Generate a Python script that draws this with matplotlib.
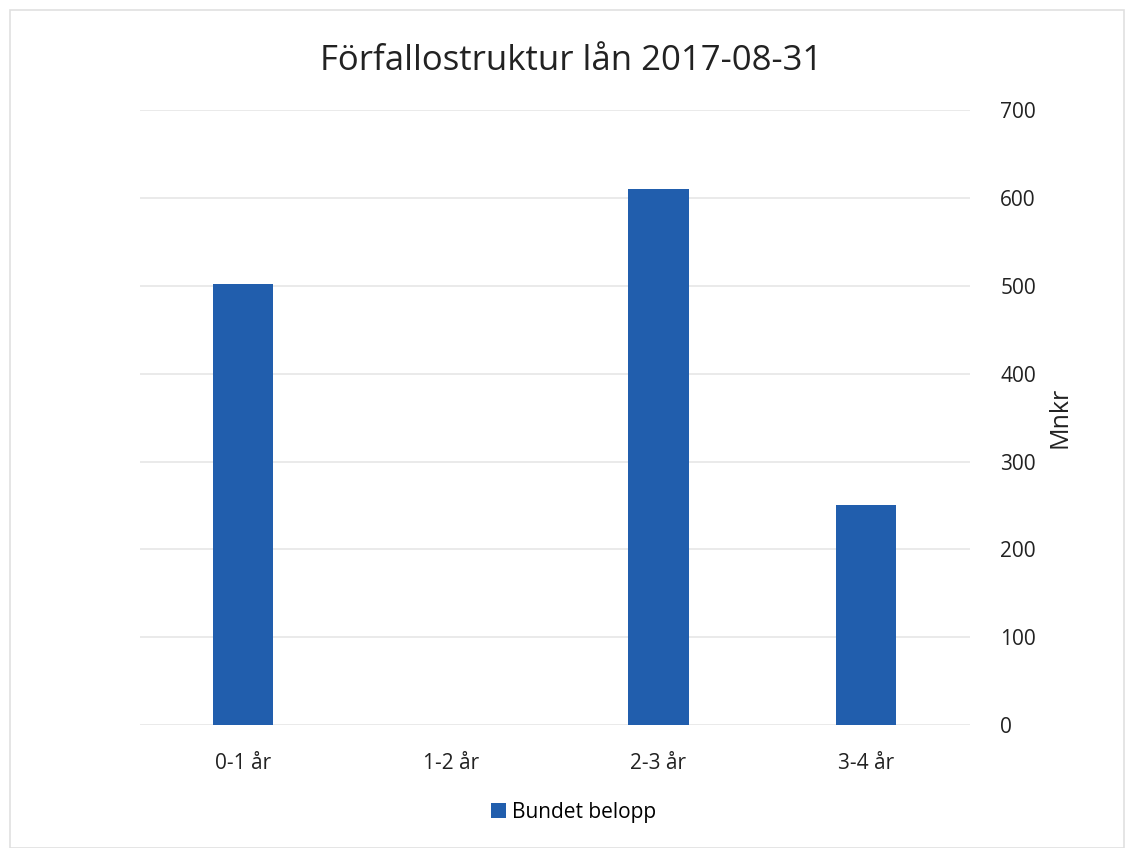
import matplotlib
matplotlib.use("Agg")
import numpy as np
import matplotlib.pyplot as plt
from matplotlib.patches import Rectangle

# data
categories = ["0-1 år", "1-2 år", "2-3 år", "3-4 år"]
bundet = [502, 0, 610, 251]
yticks = [0, 100, 200, 300, 400, 500, 600, 700]

bar_color = "#215ead"

fig = plt.figure(figsize=(11.25, 8.48), dpi=100)
ax = fig.add_axes([0.124, 0.145, 0.738, 0.725])

x = np.arange(len(categories))
ax.bar(x, bundet, width=0.29, color=bar_color, label="Bundet belopp", zorder=3)

ax.set_xlim(-0.5, len(categories) - 0.5)
ax.set_ylim(0, 700)
ax.set_yticks(yticks)
ax.yaxis.tick_right()
ax.yaxis.set_label_position("right")
ax.grid(axis="y", color="#e6e6e6", linewidth=1.2, zorder=0)
for sp in ax.spines.values():
    sp.set_visible(False)
ax.tick_params(axis="both", length=0, labelsize=15, colors="#222222")
ax.tick_params(axis="y", pad=22)
ax.tick_params(axis="x", pad=20)
ax.set_xticks(x)
ax.set_xticklabels(categories, family="Open Sans")
for lbl in ax.get_yticklabels():
    lbl.set_family("Open Sans")

ax.set_ylabel("Mnkr", fontsize=18, family="Open Sans", color="#222222", labelpad=8)

fig.text(0.508, 0.928, "Förfallostruktur lån 2017-08-31", ha="center", va="center",
         fontsize=25, family="Open Sans", color="#222222")

fig.legend(loc="center", bbox_to_anchor=(0.51, 0.042), frameon=False,
           prop={"family": "Open Sans", "size": 15}, handlelength=0.7,
           handleheight=0.7, handletextpad=0.3)

fig.add_artist(Rectangle((0.009, 0.0), 0.99, 0.988, transform=fig.transFigure,
                         fill=False, edgecolor="#e0e0e0", linewidth=1.2))

fig.savefig("out.png", dpi=100)
